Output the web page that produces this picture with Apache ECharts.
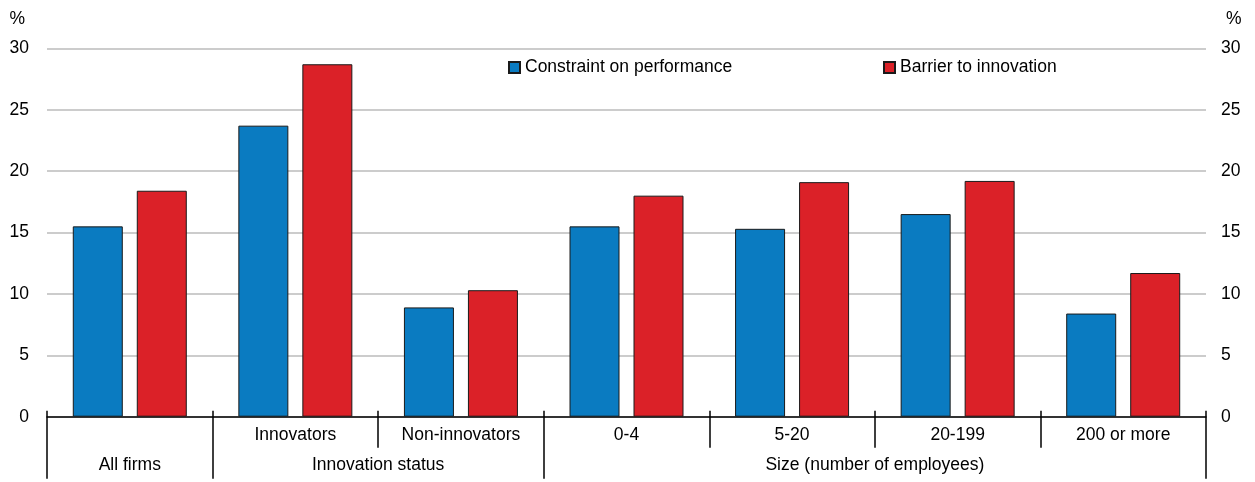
<!DOCTYPE html>
<html>
<head>
<meta charset="utf-8">
<script src="https://cdn.jsdelivr.net/npm/echarts@6/dist/echarts.min.js"></script>
<style>
html,body{margin:0;padding:0;background:#fff;}
#chart{width:1255px;height:482px;}
</style>
</head>
<body>
<div id="chart"></div>
<script>
// ---- data ----
const categories = ['All firms', 'Innovators', 'Non-innovators', '0-4', '5-20', '20-199', '200 or more'];
const subLabels = ['', 'Innovators', 'Non-innovators', '0-4', '5-20', '20-199', '200 or more'];
const parentLabels = ['All firms', 'Innovation status', 'Size (number of employees)'];
const parentSpans = [1, 2, 4];
const seriesNames = ['Constraint on performance', 'Barrier to innovation'];
const constraintValues = [15.5, 23.7, 8.9, 15.5, 15.3, 16.5, 8.4];
const barrierValues = [18.4, 28.7, 10.3, 18.0, 19.1, 19.2, 11.7];
const yTicks = [0, 5, 10, 15, 20, 25, 30];

// derived group boundaries / centers for the second label row
const parentBounds = [0];
const parentCenters = [];
parentSpans.forEach(s => {
  const start = parentBounds[parentBounds.length - 1];
  parentCenters.push(start + s / 2);
  parentBounds.push(start + s);
});

const FONT = "'Liberation Sans', Arial, sans-serif";
const FS = 17.5;
const TXT = '#000000';
const BLUE = '#0a7bc1';
const RED = '#db2128';

const chart = echarts.init(document.getElementById('chart'), null, {renderer: 'canvas'});
const yBase = {
  type: 'value', min: yTicks[0], max: yTicks[yTicks.length - 1], interval: yTicks[1] - yTicks[0],
  axisLine: {show: false}, axisTick: {show: false}
};
chart.setOption({
  animation: false,
  textStyle: {fontFamily: FONT},
  grid: {left: 47, right: 49, top: 48.3, bottom: 65.3, containLabel: false},
  legend: [
    {data: [seriesNames[0]], left: 508, top: 58.5, padding: 0, itemWidth: 11, itemHeight: 11, icon: 'rect',
     textStyle: {fontFamily: FONT, fontSize: FS, color: TXT}},
    {data: [seriesNames[1]], left: 883, top: 58.5, padding: 0, itemWidth: 11, itemHeight: 11, icon: 'rect',
     textStyle: {fontFamily: FONT, fontSize: FS, color: TXT}}
  ],
  xAxis: [
    {
      type: 'category', data: categories, position: 'bottom',
      axisLine: {show: true, lineStyle: {color: '#000', width: 1.5}},
      axisTick: {show: true, interval: 0, length: 31, lineStyle: {color: '#000', width: 1.5}},
      axisLabel: {interval: 0, margin: 9, fontSize: FS, color: TXT, fontFamily: FONT,
        formatter: (v, i) => subLabels[i]}
    },
    {
      type: 'category', data: categories, position: 'bottom',
      axisLine: {show: false},
      axisTick: {show: true, interval: 0, inside: true, length: 6, lineStyle: {color: '#000', width: 1.5}},
      axisLabel: {show: false}
    },
    {
      type: 'value', min: 0, max: categories.length, position: 'bottom',
      axisLine: {show: false}, splitLine: {show: false},
      axisTick: {show: true, length: 62, customValues: parentBounds, lineStyle: {color: '#000', width: 1.5}},
      axisLabel: {show: true, margin: 39, fontSize: FS, color: TXT, fontFamily: FONT,
        customValues: parentCenters,
        formatter: v => { const k = parentCenters.indexOf(v); return k >= 0 ? parentLabels[k] : ''; }}
    }
  ],
  yAxis: [
    Object.assign({}, yBase, {
      position: 'left', name: '%', nameLocation: 'end', nameGap: 20,
      nameTextStyle: {fontFamily: FONT, fontSize: FS, color: TXT, align: 'right', padding: [0, 22, 0, 0]},
      axisLabel: {margin: 18, fontSize: FS, color: TXT, fontFamily: FONT},
      splitLine: {show: true, lineStyle: {color: '#cccccc', width: 2}}
    }),
    Object.assign({}, yBase, {
      position: 'right', name: '%', nameLocation: 'end', nameGap: 20,
      nameTextStyle: {fontFamily: FONT, fontSize: FS, color: TXT, align: 'left', padding: [0, 0, 0, 20]},
      axisLabel: {margin: 15, fontSize: FS, color: TXT, fontFamily: FONT},
      splitLine: {show: false}
    })
  ],
  series: [
    {name: seriesNames[0], type: 'bar', xAxisIndex: 0, yAxisIndex: 0, data: constraintValues,
     barWidth: 50, barGap: '28%',
     itemStyle: {color: BLUE, borderColor: '#1a1a1a', borderWidth: 1}},
    {name: seriesNames[1], type: 'bar', xAxisIndex: 0, yAxisIndex: 0, data: barrierValues,
     barWidth: 50, barGap: '28%',
     itemStyle: {color: RED, borderColor: '#1a1a1a', borderWidth: 1}}
  ]
});
</script>
</body>
</html>
